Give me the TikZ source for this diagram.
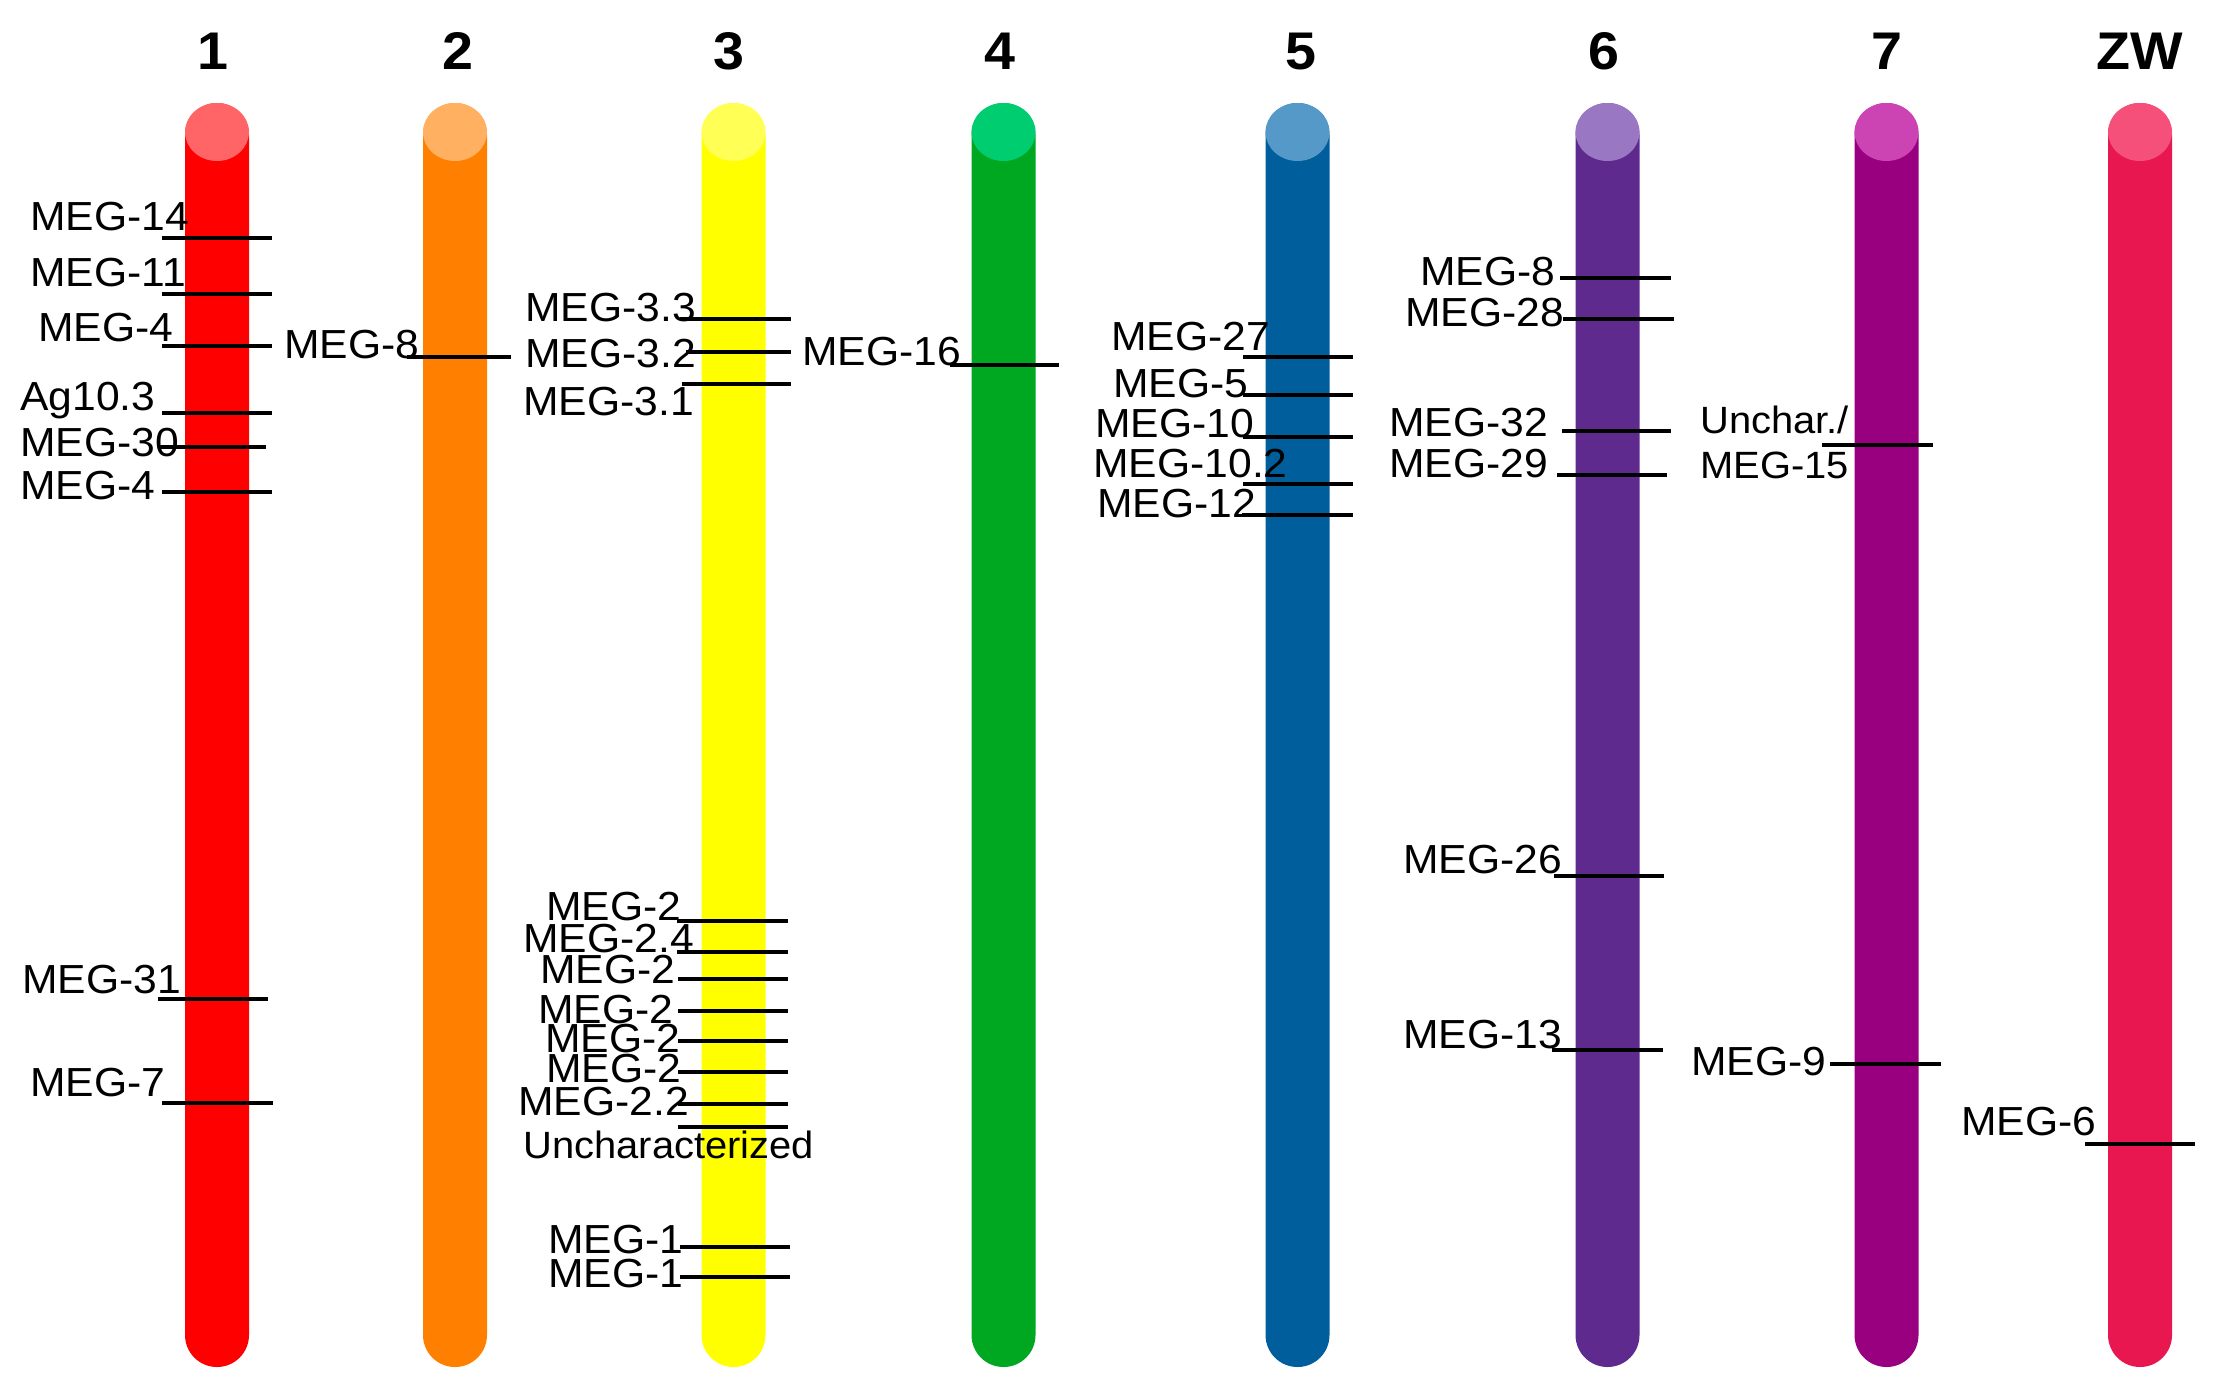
\documentclass[tikz,border=0pt]{standalone}
\usepackage{fontspec}
\setmainfont{Liberation Sans}[FakeStretch=1.05]
\begin{document}
\begin{tikzpicture}[x=0.5pt,y=-0.5pt]
\definecolor{cA}{HTML}{FF0000}\definecolor{kA}{HTML}{FF6466}
\definecolor{cB}{HTML}{FF8000}\definecolor{kB}{HTML}{FFB060}
\definecolor{cC}{HTML}{FFFF00}\definecolor{kC}{HTML}{FFFF55}
\definecolor{cD}{HTML}{00A822}\definecolor{kD}{HTML}{00CC70}
\definecolor{cE}{HTML}{005E9C}\definecolor{kE}{HTML}{5599C8}
\definecolor{cF}{HTML}{5E2A8E}\definecolor{kF}{HTML}{9977C2}
\definecolor{cG}{HTML}{990080}\definecolor{kG}{HTML}{CC44B4}
\definecolor{cH}{HTML}{E8174F}\definecolor{kH}{HTML}{F4507A}
\tikzset{
  head/.style={font=\fontsize{26.5}{30}\selectfont\bfseries, inner sep=0pt, anchor=base},
  lab/.style={font=\fontsize{20.3}{24}\selectfont, inner sep=0pt, anchor=base west},
  labs/.style={font=\fontsize{19}{23}\selectfont, inner sep=0pt, anchor=base west},
  tick/.style={line width=1.8pt, black},
}
\useasboundingbox (0,0) rectangle (2225,1399);
% chromosomes
\newcommand{\chrom}[4]{%
  \fill[#2, rounded corners=16pt] (#1-32,103) rectangle (#1+32,1367);
  \fill[#3] (#1,132) ellipse [x radius=32, y radius=29];
  \coordinate (#4) at (#1,103);}
\chrom{217}{cA}{kA}{c1}
\chrom{455}{cB}{kB}{c2}
\chrom{733.5}{cC}{kC}{c3}
\chrom{1003.5}{cD}{kD}{c4}
\chrom{1297.5}{cE}{kE}{c5}
\chrom{1607.5}{cF}{kF}{c6}
\chrom{1886.5}{cG}{kG}{c7}
\chrom{2140}{cH}{kH}{cZW}
% headings
\node[head] (h1) at (213,69) {1};
\node[head] (h2) at (458,69) {2};
\node[head] (h3) at (729,69) {3};
\node[head] (h4) at (1000,69) {4};
\node[head] (h5) at (1301,69) {5};
\node[head] (h6) at (1604,69) {6};
\node[head] (h7) at (1887,69) {7};
\node[head] (hZW) at (2140,69) {ZW};
% ticks
\newcommand{\mk}[3]{\draw[tick] (#1,#3) -- (#2,#3);}
% chr 1
\mk{162}{272}{238}\mk{162}{272}{294}\mk{162}{272}{346}\mk{162}{272}{413}
\mk{160}{266}{447}\mk{162}{272}{492}\mk{158}{268}{999}\mk{162}{273}{1103}
% chr 2
\mk{407}{511}{357}
% chr 3
\mk{680}{791}{319}\mk{686}{791}{352}\mk{682}{791}{384}
\mk{677}{788}{921}\mk{677}{788}{952}\mk{678}{788}{979}\mk{678}{788}{1011}
\mk{678}{788}{1041}\mk{678}{788}{1072}\mk{678}{788}{1104}\mk{678}{788}{1127}
\mk{680}{790}{1247}\mk{680}{790}{1277}
% chr 4
\mk{950}{1059}{365}
% chr 5
\mk{1243}{1353}{357}\mk{1243}{1353}{395}\mk{1243}{1353}{437}\mk{1243}{1353}{484}\mk{1242}{1353}{515}
% chr 6
\mk{1560}{1671}{278}\mk{1563}{1674}{319}\mk{1562}{1671}{431}\mk{1557}{1667}{475}
\mk{1554}{1664}{876}\mk{1552}{1663}{1050}
% chr 7
\mk{1822}{1933}{445}\mk{1830}{1941}{1064}
% ZW
\mk{2085}{2195}{1144}
% labels chr 1
\node[lab] (l1a) at (30,230) {MEG-14};
\node[lab] (l1b) at (30,286) {MEG-11};
\node[lab] (l1c) at (38,341) {MEG-4};
\node[lab] (l1d) at (20,410) {Ag10.3};
\node[lab] (l1e) at (20,456) {MEG-30};
\node[lab] (l1f) at (20,499) {MEG-4};
\node[lab] (l1g) at (22,993) {MEG-31};
\node[lab] (l1h) at (30,1096) {MEG-7};
% chr 2
\node[lab] (l2a) at (284,358) {MEG-8};
% chr 3
\node[lab] (l3a) at (525,321) {MEG-3.3};
\node[lab] (l3b) at (525,367) {MEG-3.2};
\node[lab] (l3c) at (523,415) {MEG-3.1};
\node[lab] (l3d) at (546,920) {MEG-2};
\node[lab] (l3e) at (523,952) {MEG-2.4};
\node[lab] (l3f) at (540,983) {MEG-2};
\node[lab] (l3g) at (538,1023) {MEG-2};
\node[lab] (l3h) at (545,1052) {MEG-2};
\node[lab] (l3i) at (546,1082) {MEG-2};
\node[lab] (l3j) at (518,1115) {MEG-2.2};
\node[labs] (l3k) at (523,1158) {Uncharacterized};
\node[lab] (l3l) at (548,1253) {MEG-1};
\node[lab] (l3m) at (548,1287) {MEG-1};
% chr 4
\node[lab] (l4a) at (802,365) {MEG-16};
% chr 5
\node[lab] (l5a) at (1111,350) {MEG-27};
\node[lab] (l5b) at (1113,397) {MEG-5};
\node[lab] (l5c) at (1095,437) {MEG-10};
\node[lab] (l5d) at (1093,477) {MEG-10.2};
\node[lab] (l5e) at (1097,517) {MEG-12};
% chr 6
\node[lab] (l6a) at (1420,285) {MEG-8};
\node[lab] (l6b) at (1405,326) {MEG-28};
\node[lab] (l6c) at (1389,436) {MEG-32};
\node[lab] (l6d) at (1389,477) {MEG-29};
\node[lab] (l6e) at (1403,873) {MEG-26};
\node[lab] (l6f) at (1403,1048) {MEG-13};
% chr 7
\node[labs] (l7a) at (1700,433) {Unchar./};
\node[labs] (l7b) at (1700,478) {MEG-15};
\node[lab] (l7c) at (1691,1075) {MEG-9};
% ZW
\node[lab] (lZa) at (1961,1135) {MEG-6};
\end{tikzpicture}
\end{document}
